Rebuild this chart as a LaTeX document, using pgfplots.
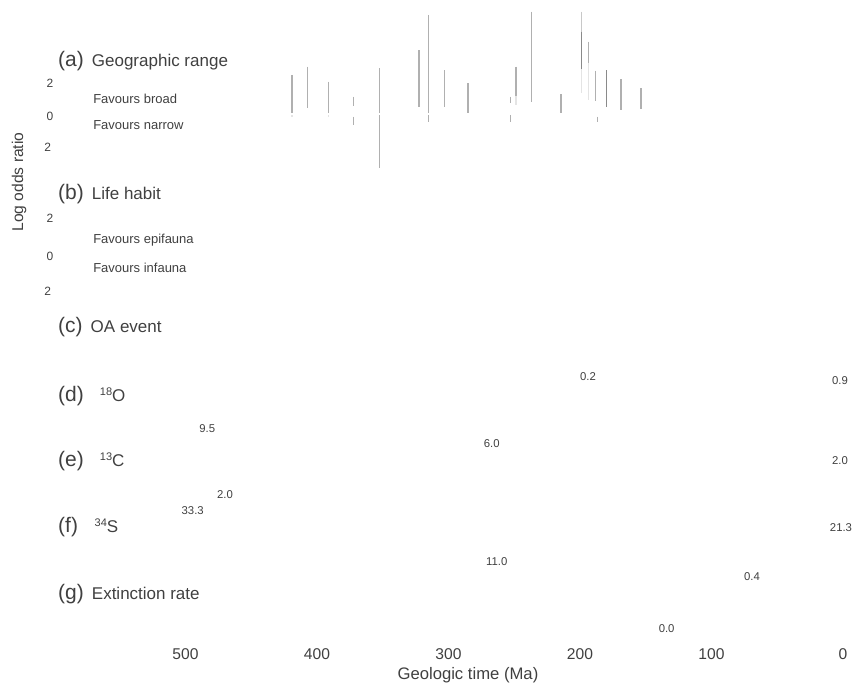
\documentclass[border=0pt]{standalone}
\usepackage{pgfplots}
\pgfplotsset{compat=1.18}
\usepackage{fontspec}
\setmainfont{Liberation Sans}
\definecolor{txt}{HTML}{404040}
\definecolor{lnorm}{HTML}{B0B0B0}
\definecolor{ldark}{HTML}{8A8A8A}
\definecolor{llight}{HTML}{E4E4E4}
\definecolor{lmid}{HTML}{C8C8C8}
\newcommand{\fs}[1]{\fontsize{#1}{#1}\selectfont}
\begin{document}
\begin{tikzpicture}
\begin{axis}[
  scale only axis,
  x=0.98625pt, y=0.75pt,
  x dir=reverse,
  xmin=-6.84, xmax=641.06, ymin=-640, ymax=0,
  axis line style={draw=none},
  major tick style={draw=none}, minor tick style={draw=none},
  xtick={0,100,200,300,400,500}, ytick=\empty,
  /pgf/number format/assume math mode=true,
  xticklabel style={anchor=center, yshift=-10.5pt, font=\fs{11.7pt}, text=txt},
  clip=false,
  unbounded coords=jump,
]
% Panel (a): log odds ratio intervals (normal grey)
\addplot[lnorm, line width=1.15pt, mark=none, y filter/.expression={16*y-114.5}] table[row sep=\\]{
x y\\
419.2 2.47\\ 419.2 0.08\\ 419.2 nan\\
407.1 2.99\\ 407.1 0.39\\ 407.1 nan\\
391.4 2.05\\ 391.4 0.08\\ 391.4 nan\\
372.4 1.11\\ 372.4 0.53\\ 372.4 nan\\
372.4 -0.14\\ 372.4 -0.66\\ 372.4 nan\\
352.6 2.89\\ 352.6 0.08\\ 352.6 nan\\
352.6 -0.03\\ 352.6 -3.36\\ 352.6 nan\\
322.4 4.03\\ 322.4 0.49\\ 322.4 nan\\
315.1 6.22\\ 315.1 0.08\\ 315.1 nan\\
315.1 -0.03\\ 315.1 -0.45\\ 315.1 nan\\
303.2 2.78\\ 303.2 0.45\\ 303.2 nan\\
285.2 1.95\\ 285.2 0.08\\ 285.2 nan\\
252.7 1.11\\ 252.7 0.74\\ 252.7 nan\\
252.7 -0.03\\ 252.7 -0.45\\ 252.7 nan\\
248.7 2.99\\ 248.7 1.18\\ 248.7 nan\\
236.7 6.43\\ 236.7 0.80\\ 236.7 nan\\
214.4 1.28\\ 214.4 0.11\\ 214.4 nan\\
193.7 4.55\\ 193.7 3.24\\ 193.7 nan\\
188.1 2.74\\ 188.1 0.86\\ 188.1 nan\\
186.8 -0.14\\ 186.8 -0.45\\ 186.8 nan\\
168.8 2.20\\ 168.8 0.28\\ 168.8 nan\\
153.6 1.64\\ 153.6 0.34\\
};
% medium-light segment
\addplot[lmid, line width=1.15pt, mark=none, y filter/.expression={16*y-114.5}] table[row sep=\\]{
x y\\
198.7 6.43\\ 198.7 5.18\\
};
% dark segments
\addplot[ldark, line width=1.15pt, mark=none, y filter/.expression={16*y-114.5}] table[row sep=\\]{
x y\\
198.7 5.18\\ 198.7 2.83\\ 198.7 nan\\
179.7 2.78\\ 179.7 0.49\\
};
% light segments
\addplot[llight, line width=1.15pt, mark=none, y filter/.expression={16*y-114.5}] table[row sep=\\]{
x y\\
419.2 -0.05\\ 419.2 -0.14\\ 419.2 nan\\
391.4 -0.05\\ 391.4 -0.14\\ 391.4 nan\\
248.7 1.18\\ 248.7 0.59\\ 248.7 nan\\
198.7 2.83\\ 198.7 1.33\\ 198.7 nan\\
193.7 3.24\\ 193.7 0.91\\
};

% axis titles
\node[rotate=90, anchor=center, text=txt] at (axis cs:626.62,-182) {\fs{11.7pt}Log odds ratio};
\node[anchor=center, text=txt] at (axis cs:285.2,-675) {\fs{12.5pt}Geologic time (Ma)};

\begin{scope}[every node/.style={anchor=center, text=txt, inner sep=0pt, font=\fs{9pt}}]
\node at (axis cs:603.04,-83.3) {2};
\node at (axis cs:603.04,-116) {0};
\node at (axis cs:604.79,-147.3) {2};
\node at (axis cs:603.04,-218.3) {2};
\node at (axis cs:603.04,-256) {0};
\node at (axis cs:604.79,-291.7) {2};
\end{scope}

\begin{scope}[every node/.style={anchor=base west, text=txt, inner sep=0pt, font=\fs{9.75pt}}]
\node at (axis cs:570.34,-103.9) {Favours broad};
\node at (axis cs:570.34,-129.6) {Favours narrow};
\node at (axis cs:570.34,-243.6) {Favours epifauna};
\node at (axis cs:570.34,-272.9) {Favours infauna};
\end{scope}

\begin{scope}[every node/.style={anchor=base west, text=txt, inner sep=0pt}]
\node at (axis cs:596.96,-66) {\fs{15.75pt}(a)\hspace{6pt}\fs{12.75pt}Geographic range};
\node at (axis cs:596.96,-199.3) {\fs{15.75pt}(b)\hspace{6pt}\fs{12.75pt}Life habit};
\node at (axis cs:596.96,-332.7) {\fs{15.75pt}(c)\hspace{6pt}\fs{12.75pt}OA event};
\node at (axis cs:596.96,-401) {\fs{15.75pt}(d)\hspace{12pt}\raisebox{4.5pt}{\fs{8.25pt}18}\fs{12.75pt}O};
\node at (axis cs:596.96,-466) {\fs{15.75pt}(e)\hspace{12pt}\raisebox{4.5pt}{\fs{8.25pt}13}\fs{12.75pt}C};
\node at (axis cs:596.96,-532.7) {\fs{15.75pt}(f)\hspace{12.5pt}\raisebox{4.5pt}{\fs{8.25pt}34}\fs{12.75pt}S};
\node at (axis cs:596.96,-599.3) {\fs{15.75pt}(g)\hspace{6pt}\fs{12.75pt}Extinction rate};
\end{scope}

\begin{scope}[every node/.style={anchor=center, text=txt, inner sep=0pt, font=\fs{8.5pt}}]
\node at (axis cs:193.9,-376.7) {0.2};
\node at (axis cs:2.3,-380.7) {0.9};
\node at (axis cs:483.4,-428.3) {9.5};
\node at (axis cs:267.1,-444) {6.0};
\node at (axis cs:2.3,-460.7) {2.0};
\node at (axis cs:470,-495) {2.0};
\node at (axis cs:494.5,-511) {33.3};
\node at (axis cs:1.5,-528) {21.3};
\node at (axis cs:263.3,-561.7) {11.0};
\node at (axis cs:69.2,-576.7) {0.4};
\node at (axis cs:134.1,-628.3) {0.0};
\end{scope}

\coordinate (TL) at (axis cs:641.06,0);
\coordinate (BR) at (axis cs:-6.84,-687);
\end{axis}
\pgfresetboundingbox
\path[use as bounding box] (TL) rectangle (BR);
\end{tikzpicture}
\end{document}
